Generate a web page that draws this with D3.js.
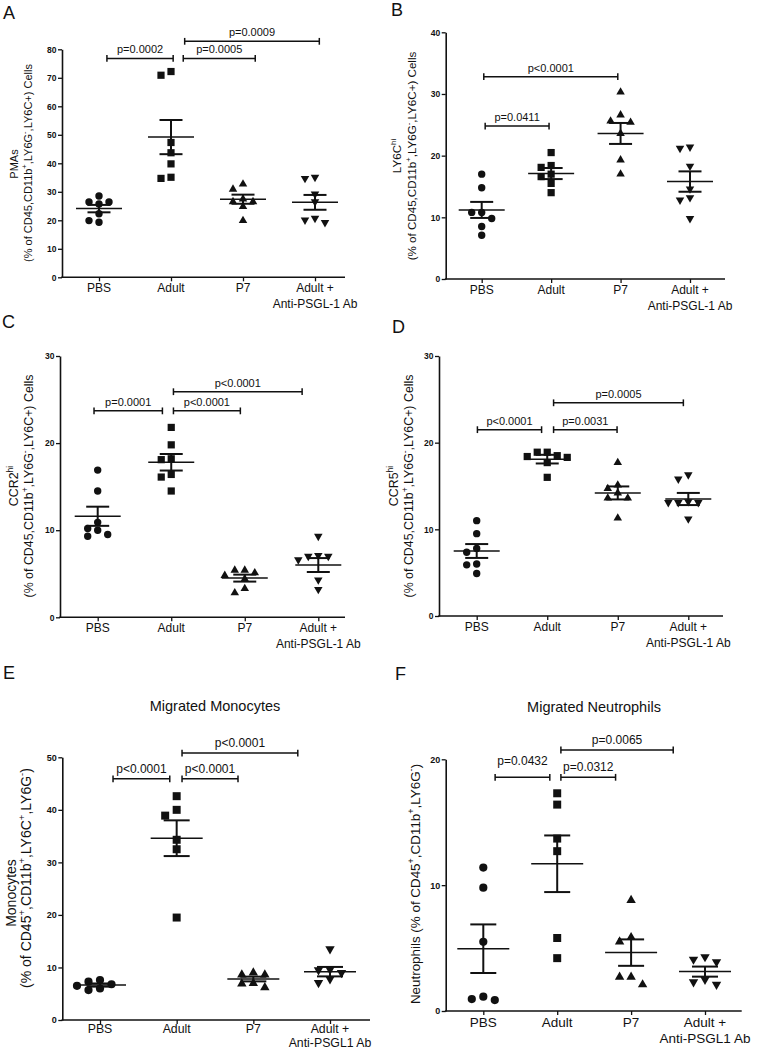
<!DOCTYPE html>
<html><head><meta charset="utf-8">
<script src="https://cdn.jsdelivr.net/npm/d3@7"></script>
<style>
body{margin:0;background:#fff}
svg{display:block}
text{font-family:"Liberation Sans",Arial,Helvetica,sans-serif;fill:#111}
</style>
</head><body>
<svg id="chart" width="763" height="1050"></svg>
<script>
// ---------------- DATA ----------------
const groups = ["PBS", "Adult", "P7", "Adult+"];
const catLabelsAD = [["PBS"], ["Adult"], ["P7"], ["Adult +", "Anti-PSGL-1 Ab"]];
const catLabelsEF = [["PBS"], ["Adult"], ["P7"], ["Adult +", "Anti-PSGL1 Ab"]];

// Panel A - PMAs
const aPBS   = [28.5, 26.4, 25.7, 26.4, 22.3, 19.3, 19.9];
const aAdult = [70.9, 72.2, 47.3, 43.7, 39.8, 34.7, 35.1];
const aP7    = [27.5, 26.5, 30.9, 32.7, 24.8, 26.5, 19.9];
const aAb    = [29.2, 26.5, 34.7, 35.1, 20.7, 19.2, 20.1];
const aMean  = [24.1, 49.2, 27.4, 26.3];
const aSem   = [1.3, 6.0, 1.6, 2.6];
const aTicks = [0, 10, 20, 30, 40, 50, 60, 70, 80];
const aBrackets = [
  {from: 0.11, to: 1.03, y: 76.8, label: "p=0.0002"},
  {from: 1.17, to: 2.17, y: 76.8, label: "p=0.0005"},
  {from: 1.19, to: 3.06, y: 82.8, label: "p=0.0009"}
];

// Panel B - LY6Chi
const bPBS   = [17.0, 14.8, 10.8, 9.8, 10.8, 8.5, 7.1];
const bAdult = [20.5, 18.4, 18.1, 17.0, 16.6, 15.5, 14.0];
const bP7    = [30.3, 26.6, 25.6, 25.4, 23.6, 19.3, 17.0];
const bAb    = [21.2, 21.4, 18.3, 14.6, 13.2, 12.8, 9.8];
const bMean  = [11.2, 17.1, 23.6, 15.8];
const bSem   = [1.3, 0.9, 1.7, 1.65];
const bTicks = [0, 10, 20, 30, 40];
const bBrackets = [
  {from: 0.03, to: 1.96, y: 32.8, label: "p<0.0001"},
  {from: 0.05, to: 0.97, y: 24.8, label: "p=0.0411"}
];

// Panel C - CCR2hi
const cPBS   = [16.9, 14.5, 10.9, 10.0, 9.3, 9.5, 10.2];
const cAdult = [21.8, 19.8, 18.1, 18.2, 16.4, 16.1, 14.5];
const cP7    = [5.4, 4.8, 4.4, 5.1, 5.4, 2.8, 3.3];
const cAb    = [9.3, 7.1, 7.0, 7.0, 6.6, 4.3, 3.2];
const cMean  = [11.6, 17.8, 4.5, 6.0];
const cSem   = [1.1, 0.95, 0.4, 0.8];
const cTicks = [0, 10, 20, 30];
const cBrackets = [
  {from: -0.05, to: 0.88, y: 23.7, label: "p=0.0001"},
  {from: 1.03, to: 1.94, y: 23.7, label: "p<0.0001"},
  {from: 1.03, to: 2.78, y: 25.9, label: "p<0.0001"}
];

// Panel D - CCR5hi
const dPBS   = [11.0, 9.5, 7.8, 7.35, 6.0, 5.9, 4.9];
const dAdult = [18.5, 18.3, 18.9, 18.9, 18.4, 17.7, 16.0];
const dP7    = [17.7, 15.1, 14.7, 14.2, 13.6, 13.6, 11.3];
const dAb    = [15.8, 16.3, 13.2, 13.1, 13.1, 13.1, 11.2];
const dMean  = [7.5, 18.1, 14.2, 13.5];
const dSem   = [0.8, 0.5, 0.75, 0.7];
const dTicks = [0, 10, 20, 30];
const dBrackets = [
  {from: 0.01, to: 0.92, y: 21.5, label: "p<0.0001"},
  {from: 1.09, to: 1.99, y: 21.5, label: "p=0.0031"},
  {from: 1.09, to: 2.93, y: 24.6, label: "p=0.0005"}
];

// Panel E - Migrated Monocytes
const ePBS   = [6.5, 7.3, 5.7, 6.8, 6.0, 7.6];
const eAdult = [42.6, 40.0, 38.9, 34.3, 32.5, 19.5];
const eP7    = [8.6, 8.6, 9.0, 6.9, 6.2, 7.0];
const eAb    = [13.5, 9.6, 9.5, 9.0, 7.8, 7.1];
const eMean  = [6.65, 34.6, 7.8, 9.2];
const eSem   = [0.3, 3.4, 0.45, 0.9];
const eTicks = [0, 10, 20, 30, 40, 50];
const eBrackets = [
  {from: 0.17, to: 0.91, y: 45.9, label: "p<0.0001"},
  {from: 1.07, to: 1.80, y: 45.9, label: "p<0.0001"},
  {from: 1.07, to: 2.58, y: 50.8, label: "p<0.0001"}
];

// Panel F - Migrated Neutrophils
const fPBS   = [11.4, 9.8, 5.5, 1.14, 0.87, 0.95];
const fAdult = [17.3, 16.4, 13.7, 12.7, 5.8, 4.2];
const fP7    = [8.8, 5.85, 5.5, 2.7, 2.7, 2.1];
const fAb    = [4.1, 3.9, 4.3, 2.5, 2.1, 2.3];
const fMean  = [4.95, 11.7, 4.64, 3.13];
const fSem   = [1.93, 2.25, 1.05, 0.4];
const fTicks = [0, 10, 20];
const fBrackets = [
  {from: 0.16, to: 0.90, y: 18.57, label: "p=0.0432"},
  {from: 1.05, to: 1.79, y: 18.57, label: "p=0.0312"},
  {from: 1.05, to: 2.57, y: 20.74, label: "p=0.0065"}
];

// ---------------- LAYOUT (positions/styles only) ----------------
const small = {tickFs: 8.5, catFs: 12, pFs: 11, catDy: 14.5, cat2Dy: 16, meanHalf: 23, capHalf: 11.5,
               step: 10, diam: 7.6, mk: 7.4, pGap: 5};
const big   = {tickFs: 9, catFs: 13.5, pFs: 12, catDy: 15.5, cat2Dy: 16.3, meanHalf: 26, capHalf: 13,
               step: 11.5, diam: 8.4, mk: 8.2, pGap: 6};

const panels = [
  {letter: "A", lx: 3, ly: 19, left: 62, right: 345, top: 49.3, bottom: 277.3, c0: 99, c3: 315,
   series: [aPBS, aAdult, aP7, aAb], mean: aMean, sem: aSem, ticks: aTicks, brackets: aBrackets,
   cats: catLabelsAD, st: small, yfs: 11,
   ylab: [{x: 18, y: 164, t: "PMAs"}, {x: 32, y: 163, t: "(% of CD45,CD11b^{+},LY6G^{-},LY6C+) Cells"}]},
  {letter: "B", lx: 391, ly: 15.5, left: 445.7, right: 725, top: 32.3, bottom: 279, c0: 481.7, c3: 690,
   series: [bPBS, bAdult, bP7, bAb], mean: bMean, sem: bSem, ticks: bTicks, brackets: bBrackets,
   cats: catLabelsAD, st: small, yfs: 11.6,
   ylab: [{x: 401, y: 156, t: "LY6C^{hi}"}, {x: 416, y: 156, t: "(% of CD45,CD11b^{+},LY6G^{-},LY6C+) Cells"}]},
  {letter: "C", lx: 2, ly: 328, left: 60, right: 345, top: 356, bottom: 617.3, c0: 97.7, c3: 318.3,
   series: [cPBS, cAdult, cP7, cAb], mean: cMean, sem: cSem, ticks: cTicks, brackets: cBrackets,
   cats: catLabelsAD, st: small, yfs: 12.4,
   ylab: [{x: 18, y: 486, t: "CCR2^{hi}"}, {x: 33, y: 486, t: "(% of CD45,CD11b^{+},LY6G^{-},LY6C+) Cells"}]},
  {letter: "D", lx: 392, ly: 333, left: 439, right: 723, top: 356, bottom: 616, c0: 476.7, c3: 688.3,
   series: [dPBS, dAdult, dP7, dAb], mean: dMean, sem: dSem, ticks: dTicks, brackets: dBrackets,
   cats: catLabelsAD, st: small, yfs: 12.4,
   ylab: [{x: 398, y: 486, t: "CCR5^{hi}"}, {x: 413, y: 486, t: "(% of CD45,CD11b^{+},LY6G^{-},LY6C+) Cells"}]},
  {letter: "E", lx: 3, ly: 679, left: 62.3, right: 370, top: 757.3, bottom: 1020, c0: 100, c3: 330,
   series: [ePBS, eAdult, eP7, eAb], mean: eMean, sem: eSem, ticks: eTicks, brackets: eBrackets,
   cats: catLabelsEF, st: big, catDy: 13, cat2Dy: 14, catFs: 12.3, yfs: 14,
   title: {x: 215, y: 711, t: "Migrated Monocytes"},
   ylab: [{x: 16, y: 893, t: "Monocytes"}, {x: 31, y: 878, t: "(% of CD45^{+},CD11b^{+},LY6C^{+},LY6G^{-})"}]},
  {letter: "F", lx: 395, ly: 680, left: 445.7, right: 741.7, top: 759.3, bottom: 1011, c0: 483.3, c3: 705,
   series: [fPBS, fAdult, fP7, fAb], mean: fMean, sem: fSem, ticks: fTicks, brackets: fBrackets,
   cats: catLabelsEF, st: big, yfs: 13.4, title: {x: 594, y: 712, t: "Migrated Neutrophils"},
   pGapOverride: {0: 12},
   ylab: [{x: 420, y: 884, t: "Neutrophils (% of CD45^{+},CD11b^{+},LY6G^{-})"}]}
];

// ---------------- DRAW ----------------
const svg = d3.select("#chart");
svg.append("rect").attr("width", 763).attr("height", 1050).attr("fill", "#fff");
const INK = "#111";

function richText(sel, str, fs) {
  const parts = str.split(/(\^\{[^}]*\})/).filter(s => s.length);
  let raised = false;
  parts.forEach(p => {
    const m = p.match(/^\^\{([^}]*)\}$/);
    if (m) {
      sel.append("tspan").attr("font-size", fs * 0.68).attr("dy", -fs * 0.42).text(m[1]);
      raised = true;
    } else {
      const ts = sel.append("tspan").attr("font-size", fs).text(p);
      if (raised) { ts.attr("dy", fs * 0.42); raised = false; }
    }
  });
}

function swarm(vals, y, step, diam) {
  const order = vals.map((v, i) => i).sort((a, b) => vals[b] - vals[a]);
  const placed = [], off = new Array(vals.length).fill(0);
  for (const i of order) {
    const py = y(vals[i]);
    for (let k = 0; k < 30; k++) {
      const s = k === 0 ? 0 : (k % 2 ? -Math.ceil(k / 2) : Math.ceil(k / 2));
      const px = s * step;
      if (placed.every(p => Math.hypot(p[0] - px, p[1] - py) >= diam)) {
        off[i] = px; placed.push([px, py]); break;
      }
    }
  }
  return off;
}

function markerPath(kind, s) {
  if (kind === 0) return d3.symbol().type(d3.symbolCircle).size(Math.PI * (s / 2) * (s / 2))();
  if (kind === 1) return d3.symbol().type(d3.symbolSquare).size(s * s * 0.95)();
  const w = s * 1.15, h = w * 0.866;
  if (kind === 2) return `M0,${-h * 2 / 3}L${w / 2},${h / 3}L${-w / 2},${h / 3}Z`;
  return `M0,${h * 2 / 3}L${w / 2},${-h / 3}L${-w / 2},${-h / 3}Z`;
}

panels.forEach(P => {
  const st = P.st;
  const catDy = P.catDy !== undefined ? P.catDy : st.catDy;
  const cat2Dy = P.cat2Dy !== undefined ? P.cat2Dy : st.cat2Dy;
  const catFs = P.catFs !== undefined ? P.catFs : st.catFs;
  const g = svg.append("g");
  const y = d3.scaleLinear().domain([0, d3.max(P.ticks)]).range([P.bottom, P.top]);
  const xi = d3.scaleLinear().domain([0, groups.length - 1]).range([P.c0, P.c3]);
  const xp = d3.scalePoint().domain(groups).range([P.c0, P.c3]);

  // panel letter
  g.append("text").attr("x", P.lx).attr("y", P.ly).attr("font-size", 18).text(P.letter);
  if (P.title) {
    g.append("text").attr("x", P.title.x).attr("y", P.title.y).attr("text-anchor", "middle")
      .attr("font-size", 14.5).text(P.title.t);
  }

  // y axis
  const ya = g.append("g").attr("transform", `translate(${P.left},0)`)
    .call(d3.axisLeft(y).tickValues(P.ticks).tickSize(4).tickSizeOuter(0).tickPadding(1.5).tickFormat(d3.format("d")));
  ya.select(".domain").attr("stroke", INK).attr("stroke-width", 1.6);
  ya.selectAll(".tick line").attr("stroke", INK).attr("stroke-width", 1.3);
  ya.selectAll(".tick text").attr("font-size", st.tickFs).attr("font-weight", "bold")
    .attr("font-family", '"Liberation Sans",Arial,sans-serif').attr("fill", INK);

  // x axis
  const xa = g.append("g").attr("transform", `translate(0,${P.bottom})`)
    .call(d3.axisBottom(xp).tickSize(4).tickSizeOuter(0).tickFormat(""));
  xa.select(".domain").remove();
  xa.selectAll(".tick line").attr("stroke", INK).attr("stroke-width", 1.3);
  g.append("line").attr("x1", P.left - 0.8).attr("x2", P.right).attr("y1", P.bottom).attr("y2", P.bottom)
    .attr("stroke", INK).attr("stroke-width", 1.6);

  // category labels
  groups.forEach((grp, i) => {
    const lines = P.cats[i];
    lines.forEach((ln, j) => {
      g.append("text").attr("x", xp(grp)).attr("y", P.bottom + catDy + j * cat2Dy)
        .attr("text-anchor", "middle").attr("font-size", catFs).text(ln);
    });
  });

  // y labels
  P.ylab.forEach(l => {
    const t = g.append("text").attr("transform", `translate(${l.x},${l.y}) rotate(-90)`)
      .attr("text-anchor", "middle");
    richText(t, l.t, P.yfs);
  });

  // points
  P.series.forEach((vals, gi) => {
    const off = swarm(vals, y, st.step, st.diam);
    g.append("g").selectAll("path").data(vals).join("path")
      .attr("d", markerPath(gi, st.mk))
      .attr("transform", (d, i) => `translate(${xp(groups[gi]) + off[i]},${y(d)})`)
      .attr("fill", INK);
  });

  // mean & SEM
  groups.forEach((grp, i) => {
    const cx = xp(grp), m = P.mean[i], s = P.sem[i];
    g.append("line").attr("x1", cx - st.meanHalf).attr("x2", cx + st.meanHalf)
      .attr("y1", y(m)).attr("y2", y(m)).attr("stroke", INK).attr("stroke-width", 1.5);
    g.append("line").attr("x1", cx).attr("x2", cx).attr("y1", y(m + s)).attr("y2", y(m - s))
      .attr("stroke", INK).attr("stroke-width", 2);
    [m + s, m - s].forEach(v => {
      g.append("line").attr("x1", cx - st.capHalf).attr("x2", cx + st.capHalf)
        .attr("y1", y(v)).attr("y2", y(v)).attr("stroke", INK).attr("stroke-width", 2);
    });
  });

  // significance brackets
  P.brackets.forEach((b, bi) => {
    const x1 = xi(b.from), x2 = xi(b.to), yy = y(b.y);
    const bg = g.append("g").attr("stroke", INK).attr("stroke-width", 1.5);
    bg.append("line").attr("x1", x1).attr("x2", x2).attr("y1", yy).attr("y2", yy);
    [x1, x2].forEach(xx => bg.append("line").attr("x1", xx).attr("x2", xx)
      .attr("y1", yy - 3.4).attr("y2", yy + 3.4));
    const gap = (P.pGapOverride && P.pGapOverride[bi] !== undefined) ? P.pGapOverride[bi] : st.pGap;
    g.append("text").attr("x", (x1 + x2) / 2).attr("y", yy - gap).attr("text-anchor", "middle")
      .attr("font-size", st.pFs).text(b.label);
  });
});
</script>
</body></html>
